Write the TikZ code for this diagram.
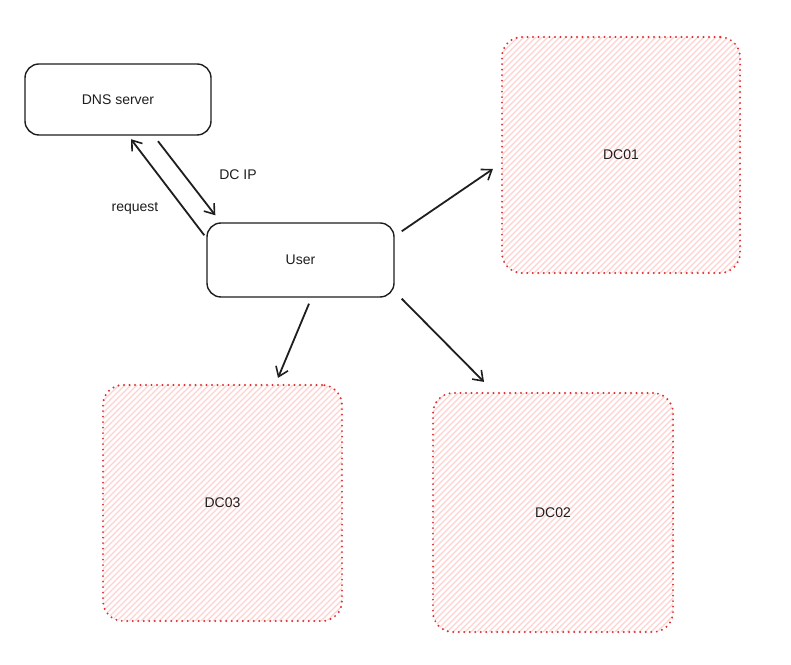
\documentclass[tikz,border=0pt]{standalone}
\usepackage{fontspec}
\setmainfont{Liberation Sans}
\usepackage{tikz}
\usetikzlibrary{arrows.meta,calc,positioning}
\definecolor{inkdark}{HTML}{1E1E1E}
\definecolor{dcred}{HTML}{E03131}
\definecolor{dchatch}{HTML}{FFD2D2}

\begin{document}
\begin{tikzpicture}[x=1pt, y=1pt, font=\fontsize{14}{16}\selectfont,
    hostbox/.style={rectangle, rounded corners=14pt, draw=inkdark, line width=1.4pt,
    fill=white, text=inkdark, inner sep=0pt},
    dcbox/.style={rectangle, rounded corners=20pt, draw=dcred, line width=2.2pt,
    dash pattern=on 0pt off 5.5pt, line cap=round, text=inkdark, inner sep=0pt,
    path picture={\foreach \k in {-250,-244,...,250}
      \draw[dchatch, line width=1.2pt, solid, line cap=butt]
        ([xshift=\k pt]path picture bounding box.south west) -- ++(260,260);}},
    arr/.style={-{Straight Barb[length=9pt,width=13pt,line width=1.6pt]}, line width=1.8pt, draw=inkdark},
    lbl/.style={text=inkdark, inner sep=0pt}]
\fill[white] (0,0) rectangle (791,664);
\useasboundingbox (0,0) rectangle (791,664);
% hosts
\node[hostbox, minimum width=186pt, minimum height=71pt] (dns) at (118,564.5) {DNS server};
\node[hostbox, minimum width=187pt, minimum height=74pt] (user) at (300.5,404) {User};
% domain controllers
\node[dcbox, minimum width=238pt, minimum height=236pt] (dc1) at (621,509) {DC01};
\node[dcbox, minimum width=240pt, minimum height=239pt] (dc2) at (553,151.5) {DC02};
\node[dcbox, minimum width=239pt, minimum height=236pt] (dc3) at (222.5,161) {DC03};
% lookup
\draw[arr] ([shift={(-2,-13)}]user.north west) -- ([shift={(13,-3.5)}]dns.south);
\draw[arr] ([shift={(40,-5.5)}]dns.south) -- ([shift={(9,7)}]user.north west);
\node[lbl] (req) at (135,456) {request};
\node[lbl] (dcip) at (238,489) {DC IP};
% connections
\draw[arr] ([shift={(7,-9)}]user.north east) -- ([shift={(-8,-14)}]dc1.west);
\draw[arr] ([shift={(7,-1)}]user.south east) -- ([shift={(-69,10)}]dc2.north);
\draw[arr] ([shift={(8.5,-6)}]user.south) -- ([shift={(55.5,6)}]dc3.north);
\end{tikzpicture}
\end{document}
